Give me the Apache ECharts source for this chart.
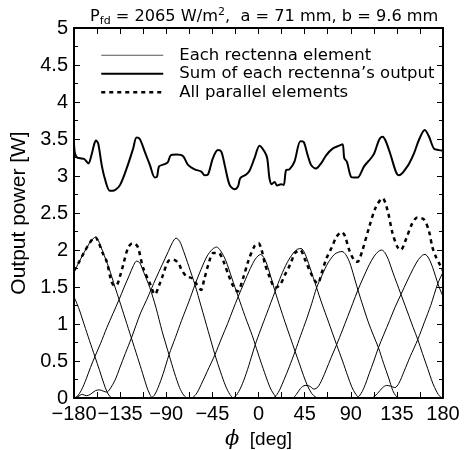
<!DOCTYPE html>
<html>
<head>
<meta charset="utf-8">
<script src="https://cdn.jsdelivr.net/npm/echarts@6/dist/echarts.min.js"></script>
<style>
  html, body { margin: 0; padding: 0; background: #fff; }
  #chart { width: 465px; height: 450px; }
</style>
</head>
<body>
<div id="chart"></div>
<script>
// phi [deg] vs output power [W]
const e1 = [[-180, 1.70], [-175, 1.84], [-170, 1.97], [-165, 2.09], [-161, 2.16], [-159, 2.17], [-156, 2.12], [-152, 1.98], [-146, 1.76], [-140, 1.50], [-136, 1.33], [-130, 1.07], [-124, 0.81], [-118, 0.55], [-113, 0.33], [-109, 0.15], [-106, 0.05], [-103, 0], [110, 0], [116, 0.06], [121, 0.14], [125, 0.17], [129, 0.16], [133, 0.14], [137, 0.2], [142, 0.36], [148, 0.56], [155.4, 0.79], [162, 1.03], [168, 1.25], [175, 1.55], [180, 1.70]];
const e2 = [[-180, 0], [-177, 0.02], [-173, 0.1], [-168, 0.26], [-164, 0.41], [-159.6, 0.56], [-154, 0.74], [-148, 0.95], [-142, 1.14], [-136, 1.33], [-131, 1.5], [-126, 1.66], [-122, 1.79], [-119, 1.85], [-116, 1.83], [-112, 1.7], [-106, 1.49], [-100, 1.22], [-94, 0.9], [-87.3, 0.585], [-82, 0.34], [-77, 0.14], [-73, 0.04], [-69, 0], [180, 0]];
const e3 = [[-180, 0], [-176, 0.02], [-172, 0.05], [-168, 0.03], [-164, 0.05], [-159, 0.1], [-155, 0.11], [-151, 0.09], [-148, 0.08], [-145, 0.12], [-140, 0.24], [-135, 0.42], [-130, 0.6], [-124, 0.81], [-115, 1.15], [-109, 1.33], [-100, 1.62], [-94, 1.8], [-88, 1.98], [-84, 2.1], [-80.5, 2.16], [-77, 2.12], [-73, 1.98], [-68, 1.78], [-62, 1.53], [-56, 1.24], [-49, 0.9], [-42.5, 0.585], [-37, 0.35], [-32, 0.16], [-28, 0.05], [-24, 0], [180, 0]];
const e4 = [[-180, 0], [-106, 0], [-102, 0.03], [-98, 0.14], [-93, 0.33], [-87.3, 0.585], [-81, 0.82], [-75, 1.05], [-68, 1.3], [-62, 1.53], [-56, 1.74], [-50, 1.92], [-45, 2.01], [-41, 2.04], [-37, 1.99], [-32, 1.86], [-26, 1.62], [-19.8, 1.37], [-13, 1.1], [-6, 0.84], [-3.2, 0.72], [2, 0.5], [7, 0.3], [11, 0.15], [15, 0.05], [19, 0], [180, 0]];
const e5 = [[-180, 0], [-66, 0], [-61, 0.05], [-56, 0.18], [-50, 0.36], [-42.5, 0.585], [-36, 0.81], [-30, 1.01], [-25, 1.19], [-19.8, 1.37], [-14, 1.56], [-8, 1.75], [-3, 1.88], [2, 1.94], [6, 1.88], [10, 1.73], [13, 1.59], [16.2, 1.44], [21, 1.23], [26, 1.02], [31, 0.82], [35.7, 0.63], [40, 0.46], [44, 0.3], [48, 0.16], [52, 0.06], [56, 0.01], [60, 0], [180, 0]];
const e6 = [[-180, 0], [-26, 0], [-22, 0.03], [-17, 0.15], [-12, 0.33], [-7, 0.55], [-3.2, 0.72], [2, 0.92], [8, 1.14], [16.2, 1.44], [22, 1.65], [28, 1.83], [34, 1.96], [38, 2.01], [41.5, 2.02], [45, 1.96], [50, 1.77], [56.7, 1.49], [62, 1.27], [68, 1.04], [76.2, 0.72], [82, 0.5], [87, 0.3], [91, 0.15], [95, 0.05], [99, 0], [180, 0]];
const e7 = [[-180, 0], [13, 0], [17, 0.03], [21, 0.12], [25, 0.25], [30, 0.42], [35.7, 0.63], [41, 0.84], [47, 1.07], [52, 1.28], [56.7, 1.49], [62, 1.66], [68, 1.83], [74, 1.94], [78, 1.97], [81.5, 1.98], [85, 1.94], [89, 1.83], [93, 1.65], [97, 1.46], [102, 1.24], [107, 1.03], [112, 0.85], [117, 0.68], [122, 0.47], [127, 0.27], [131, 0.1], [134, 0.03], [137, 0], [180, 0]];
const e8 = [[-180, 0], [33, 0], [37, 0.05], [41, 0.13], [45.5, 0.17], [50, 0.16], [54, 0.12], [58, 0.15], [62, 0.25], [66, 0.38], [71, 0.55], [76.2, 0.72], [82, 0.92], [87, 1.1], [92, 1.28], [97, 1.46], [102, 1.62], [108, 1.8], [113, 1.92], [117, 1.98], [120, 2.0], [123, 1.97], [127, 1.86], [131, 1.7], [135, 1.55], [139, 1.4], [143, 1.25], [147, 1.1], [151, 0.95], [155.4, 0.79], [160, 0.6], [165, 0.4], [170, 0.2], [174, 0.08], [177, 0.02], [180, 0]];
const e9 = [[-180, 1.37], [-175, 1.2], [-170, 0.99], [-165, 0.78], [-159.6, 0.56], [-155, 0.37], [-151, 0.2], [-148, 0.09], [-145, 0.02], [-142, 0], [95, 0], [99, 0.04], [103, 0.14], [108, 0.33], [112.5, 0.5], [117, 0.68], [122, 0.85], [128, 1.05], [133, 1.22], [139, 1.40], [145, 1.58], [151, 1.75], [156, 1.87], [160, 1.93], [162.5, 1.94], [166, 1.89], [170, 1.76], [175.4, 1.53], [180, 1.37]];

const sumOutput = [[-180, 3.44], [-179, 3.3], [-177, 3.25], [-174, 3.24], [-170, 3.23], [-166, 3.17], [-163, 3.28], [-160.5, 3.42], [-158.6, 3.48], [-156.4, 3.44], [-153, 3.15], [-150, 2.97], [-145, 2.80], [-140, 2.81], [-135, 2.88], [-128.7, 3.10], [-122.3, 3.37], [-119, 3.52], [-115.8, 3.50], [-111, 3.33], [-106, 3.15], [-101.2, 2.98], [-99, 2.99], [-97, 3.13], [-91.5, 3.16], [-88.3, 3.19], [-85.6, 3.28], [-80, 3.29], [-73.7, 3.27], [-68.8, 3.15], [-62.3, 3.09], [-55.8, 3.06], [-52.5, 3.01], [-49.3, 3.02], [-44.5, 3.24], [-39.6, 3.35], [-36.3, 3.33], [-33, 3.15], [-28.2, 2.88], [-23.4, 2.82], [-20, 2.86], [-17.8, 2.97], [-12, 3.02], [-8.8, 3.07], [-3.9, 3.24], [1, 3.41], [5.8, 3.33], [8.5, 3.24], [10.7, 2.97], [12.9, 2.89], [15.6, 2.92], [18.2, 2.87], [22, 2.89], [24.6, 2.88], [26.9, 3.08], [30.2, 3.09], [35, 3.19], [40.9, 3.47], [44.1, 3.46], [48, 3.28], [51.3, 3.15], [56, 3.10], [61, 3.17], [66, 3.28], [72.3, 3.37], [78.8, 3.41], [82, 3.43], [83.7, 3.24], [86.3, 3.19], [90.2, 2.99], [93.4, 2.98], [96.6, 2.98], [103, 3.13], [109.7, 3.24], [113, 3.31], [117.7, 3.49], [121, 3.53], [124.2, 3.47], [129, 3.28], [134, 3.06], [137, 3.01], [140.4, 3.04], [143.7, 3.10], [147, 3.17], [151.8, 3.31], [156.6, 3.49], [162.2, 3.62], [166.4, 3.53], [171.2, 3.37], [176, 3.35], [180, 3.34]];

const allParallel = [[-180, 1.72], [-175, 1.84], [-170, 1.97], [-165, 2.09], [-161, 2.16], [-159, 2.17], [-156, 2.1], [-152, 1.96], [-148, 1.84], [-144, 1.6], [-141, 1.52], [-138, 1.53], [-135, 1.65], [-132, 1.80], [-127.2, 2.03], [-123, 2.09], [-120, 2.08], [-117.4, 2.03], [-112.6, 1.76], [-106, 1.55], [-101, 1.40], [-97, 1.52], [-93, 1.67], [-88, 1.85], [-83, 1.87], [-78, 1.82], [-75, 1.73], [-70, 1.64], [-65, 1.62], [-60, 1.53], [-56, 1.46], [-53, 1.6], [-49, 1.80], [-44, 1.96], [-39, 1.96], [-34.3, 1.85], [-29.5, 1.67], [-24.6, 1.51], [-20.4, 1.44], [-15, 1.62], [-10, 1.85], [-4, 2.05], [0, 2.09], [3, 2.0], [6.5, 1.80], [11.4, 1.62], [16.2, 1.49], [21, 1.53], [26, 1.67], [30.8, 1.80], [35.7, 1.96], [40.6, 2.0], [45.4, 1.87], [50.3, 1.71], [55.2, 1.58], [58, 1.55], [61.6, 1.69], [66.4, 1.89], [71.3, 2.03], [76.2, 2.18], [81, 2.24], [84, 2.2], [88.5, 2.0], [93.4, 1.86], [96.6, 1.84], [101, 1.98], [108, 2.31], [114.5, 2.58], [121, 2.70], [125.8, 2.54], [130.7, 2.23], [135.6, 2.04], [138.8, 2.0], [143.7, 2.14], [150, 2.36], [155, 2.44], [161.5, 2.41], [166.4, 2.25], [169.6, 2.04], [173, 1.91], [177, 1.8], [180, 1.72]];

const elements = [e1, e2, e3, e4, e5, e6, e7, e8, e9];
const legendNames = ['Each rectenna element', 'Sum of each rectenna\u2019s output', 'All parallel elements'];

const FONT = 'Liberation Sans';
const TEXT_FONT = 'DejaVu Sans';
let chart = echarts.init(document.getElementById('chart'), null, {renderer: 'canvas'});

function frameAxis(pos, isX) {
    // mirrored axis without labels, ticks pointing inward
    return {
        type: 'value',
        position: pos,
        min: isX ? -180 : 0,
        max: isX ? 180 : 5,
        interval: isX ? 45 : 0.5,
        axisLine: {show: true, onZero: false, lineStyle: {color: '#000', width: 2}},
        axisTick: {show: true, inside: true, length: 6, lineStyle: {color: '#000', width: 1}},
        minorTick: {show: true, splitNumber: 2, length: isX ? 6 : 4, lineStyle: {color: '#000', width: 1}},
        axisLabel: {show: false},
        splitLine: {show: false}
    };
}

let xMain = frameAxis('bottom', true);
xMain.axisLabel = {
    show: true, color: '#000', fontFamily: FONT, fontSize: 20, margin: 6,
    formatter: function (v) { return String(v).replace('-', '\u2212'); }
};
xMain.name = '{i|\u03d5}  [deg]';
xMain.nameLocation = 'middle';
xMain.nameGap = 28;
xMain.nameTextStyle = {
    color: '#000', fontFamily: FONT, fontSize: 19,
    rich: {i: {fontFamily: 'DejaVu Serif', fontStyle: 'italic', fontSize: 21, color: '#000'}}
};

let yMain = frameAxis('left', false);
yMain.axisLabel = {show: true, color: '#000', fontFamily: FONT, fontSize: 20, margin: 6};
yMain.name = 'Output power [W]';
yMain.nameLocation = 'middle';
yMain.nameGap = 39;
yMain.nameTextStyle = {color: '#000', fontFamily: FONT, fontSize: 21};

let series = elements.map(function (d) {
    return {
        name: legendNames[0], type: 'line', data: d, symbol: 'none', smooth: 0.3,
        lineStyle: {color: '#000', width: 1}, itemStyle: {color: '#000'}, z: 2
    };
});
series.push({
    name: legendNames[1], type: 'line', data: sumOutput, symbol: 'none', smooth: 0.3,
    lineStyle: {color: '#000', width: 2}, itemStyle: {color: '#000'}, z: 3
});
series.push({
    name: legendNames[2], type: 'line', data: allParallel, symbol: 'none', smooth: 0.3,
    lineStyle: {color: '#000', width: 2.5, type: [4, 4]}, itemStyle: {color: '#000'}, z: 3
});

chart.setOption({
    animation: false,
    backgroundColor: '#fff',
    title: {
        left: 90, top: 6, padding: 0,
        text: '{a|P}{s|fd}{a| = 2065 W/m}{p|2}{a|,  a = 71 mm, b = 9.6 mm}',
        textStyle: {
            fontWeight: 'normal',
            rich: {
                a: {fontFamily: TEXT_FONT, fontSize: 16.2, fontWeight: 'normal', color: '#000', lineHeight: 22},
                s: {fontFamily: TEXT_FONT, fontSize: 11, fontWeight: 'normal', color: '#000', padding: [8, 0, 0, 0]},
                p: {fontFamily: TEXT_FONT, fontSize: 11, fontWeight: 'normal', color: '#000', padding: [0, 0, 9, 0]}
            }
        }
    },
    legend: {
        orient: 'vertical', left: 100, top: 46, padding: 0,
        itemWidth: 62, itemHeight: 12, itemGap: 0,
        data: [
            {name: legendNames[0], lineStyle: {color: '#555', width: 1, type: 'solid'}},
            {name: legendNames[1], lineStyle: {color: '#000', width: 2, type: 'solid'}},
            {name: legendNames[2], lineStyle: {color: '#000', width: 2.5, type: [4, 4]}}
        ],
        selectedMode: false,
        itemStyle: {opacity: 0},
        textStyle: {color: '#000', fontFamily: TEXT_FONT, fontSize: 16.5, lineHeight: 18.5, padding: [0, 0, 0, 11]}
    },
    grid: {left: 74, right: 22, top: 28, bottom: 52, outerBoundsMode: 'none'},
    xAxis: [xMain, frameAxis('top', true)],
    yAxis: [yMain, frameAxis('right', false)],
    series: series
});
</script>
</body>
</html>
